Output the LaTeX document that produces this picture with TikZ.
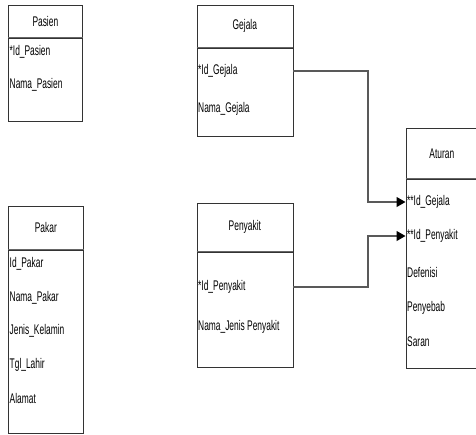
\documentclass[tikz,border=0pt]{standalone}
\usepackage{fontspec}
\setmainfont[FakeStretch=0.6]{Liberation Sans}
\usetikzlibrary{arrows.meta}

\begin{document}
\begin{tikzpicture}[
    x=1pt, y=-1pt,
    font=\fontsize{14}{16}\selectfont,
    head/.style={rectangle, draw=black!80, line width=0.7pt, anchor=north west, inner sep=0pt, text centered},
    body/.style={rectangle, draw=black!80, line width=0.7pt, anchor=north west, inner sep=0pt},
    sep/.style={draw=black!60, line width=1.2pt},
    field/.style={anchor=west, inner sep=0pt},
    conn/.style={-{Triangle[length=9pt, width=10pt, color=black]}, draw=black!65, line width=1.1pt}
]
\useasboundingbox (0,0) rectangle (476,434);

% Tabel Pasien
\node[head, minimum width=74pt, minimum height=32pt] (pasien) at (8,5) {Pasien};
\node[body, minimum width=74pt, minimum height=83pt] (pasienBody) at (pasien.south west) {};
\draw[sep] (pasien.south west) -- (pasien.south east);
\node[field] (psIdPasien) at (9.5,52) {*Id\_Pasien};
\node[field] (psNama) at (9.5,85) {Nama\_Pasien};

% Tabel Gejala
\node[head, minimum width=96pt, minimum height=42pt] (gejala) at (196.5,5) {Gejala};
\node[body, minimum width=96pt, minimum height=88pt] (gejalaBody) at (gejala.south west) {};
\draw[sep] (gejala.south west) -- (gejala.south east);
\node[field] (gIdGejala) at (198,71) {*Id\_Gejala};
\node[field] (gNama) at (198,109) {Nama\_Gejala};

% Tabel Pakar
\node[head, minimum width=75pt, minimum height=43pt] (pakar) at (8,206) {Pakar};
\node[body, minimum width=75pt, minimum height=183pt] (pakarBody) at (pakar.south west) {};
\draw[sep] (pakar.south west) -- (pakar.south east);
\node[field] (pkId) at (9.5,264) {Id\_Pakar};
\node[field] (pkNama) at (9.5,298) {Nama\_Pakar};
\node[field] (pkJenis) at (9.5,331) {Jenis\_Kelamin};
\node[field] (pkTgl) at (9.5,365) {Tgl\_Lahir};
\node[field] (pkAlamat) at (9.5,398) {Alamat};

% Tabel Penyakit
\node[head, minimum width=96pt, minimum height=48pt] (penyakit) at (196.5,203) {Penyakit};
\node[body, minimum width=96pt, minimum height=115pt] (penyakitBody) at (penyakit.south west) {};
\draw[sep] (penyakit.south west) -- (penyakit.south east);
\node[field] (pIdPenyakit) at (198,287) {*Id\_Penyakit};
\node[field] (pNama) at (198,327) {Nama\_Jenis Penyakit};

% Tabel Aturan
\node[head, minimum width=72pt, minimum height=50pt] (aturan) at (405.5,128) {Aturan};
\node[body, minimum width=72pt, minimum height=189pt] (aturanBody) at (aturan.south west) {};
\draw[sep] (aturan.south west) -- (aturan.south east);
\node[field] (aIdGejala) at (407,202) {**Id\_Gejala};
\node[field] (aIdPenyakit) at (407,236) {**Id\_Penyakit};
\node[field] (aDefenisi) at (407,272) {Defenisi};
\node[field] (aPenyebab) at (407,308) {Penyebab};
\node[field] (aSaran) at (407,342) {Saran};

% Relasi
\coordinate (jog) at (368,0);
\draw[conn] (gejalaBody.east |- gIdGejala) -| (jog |- aIdGejala) -- (aturanBody.west |- aIdGejala);
\draw[conn] (penyakitBody.east |- pIdPenyakit) -| (jog |- aIdPenyakit) -- (aturanBody.west |- aIdPenyakit);
\end{tikzpicture}
\end{document}
